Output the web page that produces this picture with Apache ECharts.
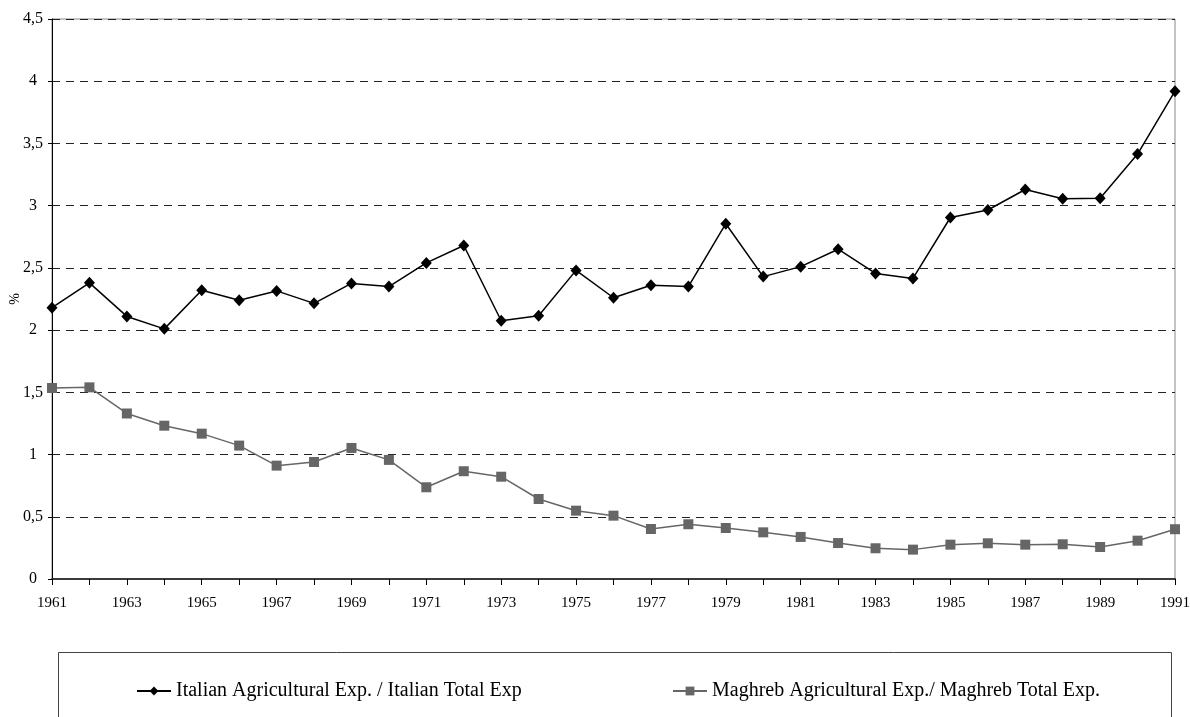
<!DOCTYPE html>
<html>
<head>
<meta charset="utf-8">
<script src="https://cdn.jsdelivr.net/npm/echarts@6/dist/echarts.min.js"></script>
<style>
  html, body { margin: 0; padding: 0; background: #fff; }
  #chart { width: 1190px; height: 717px; }
</style>
</head>
<body>
<div id="chart"></div>
<script>
// years on the x axis
const years = [];
for (let y = 1961; y <= 1991; y++) years.push(String(y));

// Italian Agricultural Exp. / Italian Total Exp (%)
const italianShare = [
  2.18, 2.38, 2.11, 2.01, 2.32, 2.24, 2.315, 2.215, 2.375, 2.35,
  2.54, 2.68, 2.075, 2.115, 2.48, 2.26, 2.36, 2.35, 2.855, 2.43,
  2.51, 2.65, 2.455, 2.415, 2.905, 2.965, 3.13, 3.055, 3.06, 3.415,
  3.92
];

// Maghreb Agricultural Exp./ Maghreb Total Exp. (%)
const maghrebShare = [
  1.535, 1.54, 1.33, 1.232, 1.168, 1.072, 0.911, 0.94, 1.053, 0.957,
  0.737, 0.866, 0.822, 0.643, 0.549, 0.509, 0.402, 0.44, 0.41, 0.375,
  0.338, 0.289, 0.247, 0.236, 0.276, 0.287, 0.276, 0.279, 0.257, 0.308,
  0.40
];

const seriesNames = [
  'Italian Agricultural Exp. / Italian Total Exp',
  'Maghreb Agricultural Exp./ Maghreb Total Exp.'
];

const serif = '"Liberation Serif", "Times New Roman", serif';

const chart = echarts.init(document.getElementById('chart'));

chart.setOption({
  backgroundColor: '#fff',
  animation: false,
  textStyle: { fontFamily: serif, color: '#000' },
  grid: {
    left: 52, right: 15, top: 19, bottom: 138,
    containLabel: false,
    outerBoundsMode: 'none',
    show: true, borderColor: '#8a8a8a', borderWidth: 1
  },
  // legend box, partly cut off at the bottom like the original
  graphic: [{
    type: 'rect',
    shape: { x: 58.5, y: 652.5, width: 1113, height: 120 },
    style: { fill: 'none', stroke: '#444', lineWidth: 1 },
    z: 0
  }],
  legend: [
    {
      data: [seriesNames[0]],
      left: 136, top: 681, padding: 0,
      itemWidth: 34, itemHeight: 11, itemGap: 0,
      textStyle: { fontFamily: serif, fontSize: 20, color: '#000' }
    },
    {
      data: [seriesNames[1]],
      left: 672, top: 681, padding: 0,
      itemWidth: 34, itemHeight: 11, itemGap: 0,
      textStyle: { fontFamily: serif, fontSize: 20, color: '#000' }
    }
  ],
  xAxis: {
    type: 'category',
    data: years,
    boundaryGap: false,
    axisLine: { lineStyle: { color: '#3a3a3a', width: 2 } },
    axisTick: { interval: 0, length: 6, lineStyle: { color: '#000' } },
    axisLabel: {
      interval: 1, margin: 17,
      fontFamily: serif, fontSize: 15, color: '#000'
    },
    splitLine: { show: false }
  },
  yAxis: {
    type: 'value',
    min: 0, max: 4.5, interval: 0.5,
    name: '%',
    nameLocation: 'middle',
    nameGap: 30,
    nameMoveOverlap: false,
    nameTextStyle: { fontFamily: serif, fontSize: 14, color: '#000' },
    axisLine: { show: true, lineStyle: { color: '#000', width: 1 } },
    axisTick: { show: true, length: 4, lineStyle: { color: '#000' } },
    axisLabel: {
      margin: 19, align: 'center', fontFamily: serif, fontSize: 16, color: '#000',
      formatter: v => String(v).replace('.', ',')
    },
    splitLine: { lineStyle: { color: '#222', width: 1, type: [8, 6] } }
  },
  series: [
    {
      name: seriesNames[0],
      type: 'line',
      data: italianShare,
      symbol: 'diamond',
      symbolSize: [11, 12],
      color: '#000',
      lineStyle: { color: '#000', width: 1.5 },
      itemStyle: { color: '#000' },
      z: 3
    },
    {
      name: seriesNames[1],
      type: 'line',
      data: maghrebShare,
      symbol: 'rect',
      symbolSize: 10,
      color: '#666',
      lineStyle: { color: '#666', width: 1.5 },
      itemStyle: { color: '#666' },
      z: 2
    }
  ]
});
</script>
</body>
</html>
